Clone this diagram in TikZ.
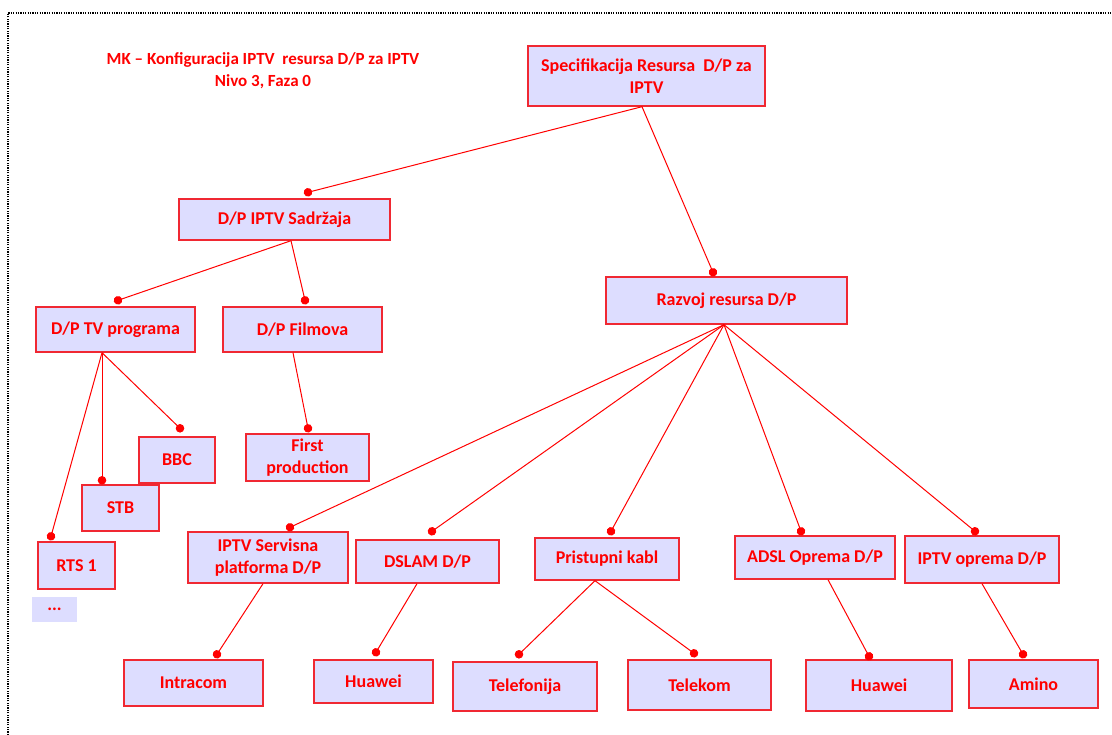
\documentclass[tikz,border=0pt]{standalone}
\usepackage{fontspec}
\setmainfont{Carlito}
\usetikzlibrary{arrows.meta}
\definecolor{rd}{RGB}{255,0,0}
\definecolor{bxline}{RGB}{240,40,50}
\definecolor{lav}{RGB}{221,221,255}
\begin{document}
\begin{tikzpicture}[x=1pt,y=-1pt,
  box/.style={draw=bxline, line width=1.4pt, fill=lav, inner sep=0pt, align=center,
    text=rd, font=\fontsize{18}{22.5}\selectfont\bfseries},
  link/.style={draw=rd, line width=1pt, -{Circle[length=8.5pt,width=8.5pt]}, shorten >=-4.25pt}
]
\useasboundingbox (0,0) rectangle (1112,735);
\draw[black, line width=2pt, dash pattern=on 1.2pt off 1.2pt] (8,735) -- (8,13) -- (1112,13);

\node[text=rd, font=\fontsize{17}{22}\selectfont\bfseries, align=center] (title) at (263,71)
  {MK -- Konfiguracija IPTV\ \ resursa D/P za IPTV\\Nivo 3, Faza 0};

\node[box, minimum width=237pt, minimum height=60pt] (spec) at (646.5,76) {Specifikacija Resursa\ \ D/P za\\IPTV};
\node[box, minimum width=211pt, minimum height=41pt] (sad) at (284.5,219.5) {D/P IPTV Sadržaja};
\node[box, minimum width=241pt, minimum height=47pt] (raz) at (726.5,300.5) {Razvoj resursa D/P};
\node[box, minimum width=159pt, minimum height=45pt] (tvp) at (115.5,329.5) {D/P TV programa};
\node[box, minimum width=159pt, minimum height=45pt] (film) at (302.5,329.5) {D/P Filmova};
\node[box, minimum width=76pt, minimum height=46pt] (bbc) at (177,460) {BBC};
\node[box, minimum width=123pt, minimum height=47pt] (first) at (307.5,457.5) {First\\production};
\node[box, minimum width=77pt, minimum height=46pt] (stb) at (120.5,508) {STB};
\node[box, minimum width=77pt, minimum height=47pt] (rts) at (76.5,565.5) {RTS 1};
\node[box, draw=none, minimum width=45pt, minimum height=25pt] (more) at (54.5,609.5) {...};
\node[box, minimum width=160pt, minimum height=51pt] (serv) at (268,557.5) {IPTV Servisna\\platforma D/P};
\node[box, minimum width=143pt, minimum height=43pt] (dslam) at (427.5,561.5) {DSLAM D/P};
\node[box, minimum width=144pt, minimum height=42pt] (prist) at (607,559) {Pristupni kabl};
\node[box, minimum width=160pt, minimum height=43pt] (adsl) at (815,557.5) {ADSL Oprema D/P};
\node[box, minimum width=154pt, minimum height=47pt] (iptvo) at (982,559.5) {IPTV oprema D/P};
\node[box, minimum width=139pt, minimum height=46pt] (intra) at (193.5,683) {Intracom};
\node[box, minimum width=119pt, minimum height=43pt] (hua1) at (373.5,681.5) {Huawei};
\node[box, minimum width=144pt, minimum height=49pt] (telef) at (525,686.5) {Telefonija};
\node[box, minimum width=143pt, minimum height=50pt] (telek) at (699.5,685) {Telekom};
\node[box, minimum width=146pt, minimum height=51pt] (hua2) at (879,685.5) {Huawei};
\node[box, minimum width=129pt, minimum height=48pt] (amino) at (1033.5,684) {Amino};

\draw[link] ([xshift=-4.5pt]spec.south) -- ([shift={(23.5,-6)}]sad.north);
\draw[link] ([xshift=-4.5pt]spec.south) -- ([shift={(-13.5,-4)}]raz.north);
\draw[link] ([xshift=6.5pt]sad.south) -- ([shift={(2.5,-6)}]tvp.north);
\draw[link] ([xshift=6.5pt]sad.south) -- ([shift={(2.5,-6)}]film.north);
\draw[link] ([xshift=-13.5pt]tvp.south) -- ([shift={(3,-8)}]bbc.north);
\draw[link] ([xshift=-13.5pt]tvp.south) -- ([shift={(-18.5,-4)}]stb.north);
\draw[link] ([xshift=-13.5pt]tvp.south) -- ([shift={(-25.5,-5)}]rts.north);
\draw[link] ([xshift=-9.5pt]film.south) -- ([shift={(0.5,-5)}]first.north);
\draw[link] ([xshift=-2.5pt]raz.south) -- ([shift={(22,-4)}]serv.north);
\draw[link] ([xshift=-2.5pt]raz.south) -- ([shift={(4.5,-8)}]dslam.north);
\draw[link] ([xshift=-2.5pt]raz.south) -- ([shift={(4,-6)}]prist.north);
\draw[link] ([xshift=-2.5pt]raz.south) -- ([shift={(-14,-4)}]adsl.north);
\draw[link] ([xshift=-2.5pt]raz.south) -- ([shift={(-7,-4)}]iptvo.north);
\draw[link] ([xshift=-5pt]serv.south) -- ([shift={(23.5,-5)}]intra.north);
\draw[link] ([xshift=-10.5pt]dslam.south) -- ([shift={(2.5,-7)}]hua1.north);
\draw[link] ([xshift=-12pt]prist.south) -- ([shift={(-6,-7)}]telef.north);
\draw[link] ([xshift=-12pt]prist.south) -- ([shift={(-5.5,-6)}]telek.north);
\draw[link] ([xshift=13pt]adsl.south) -- ([shift={(-10,-3)}]hua2.north);
\draw[link] (iptvo.south) -- ([shift={(-10.5,-5)}]amino.north);
\end{tikzpicture}
\end{document}
